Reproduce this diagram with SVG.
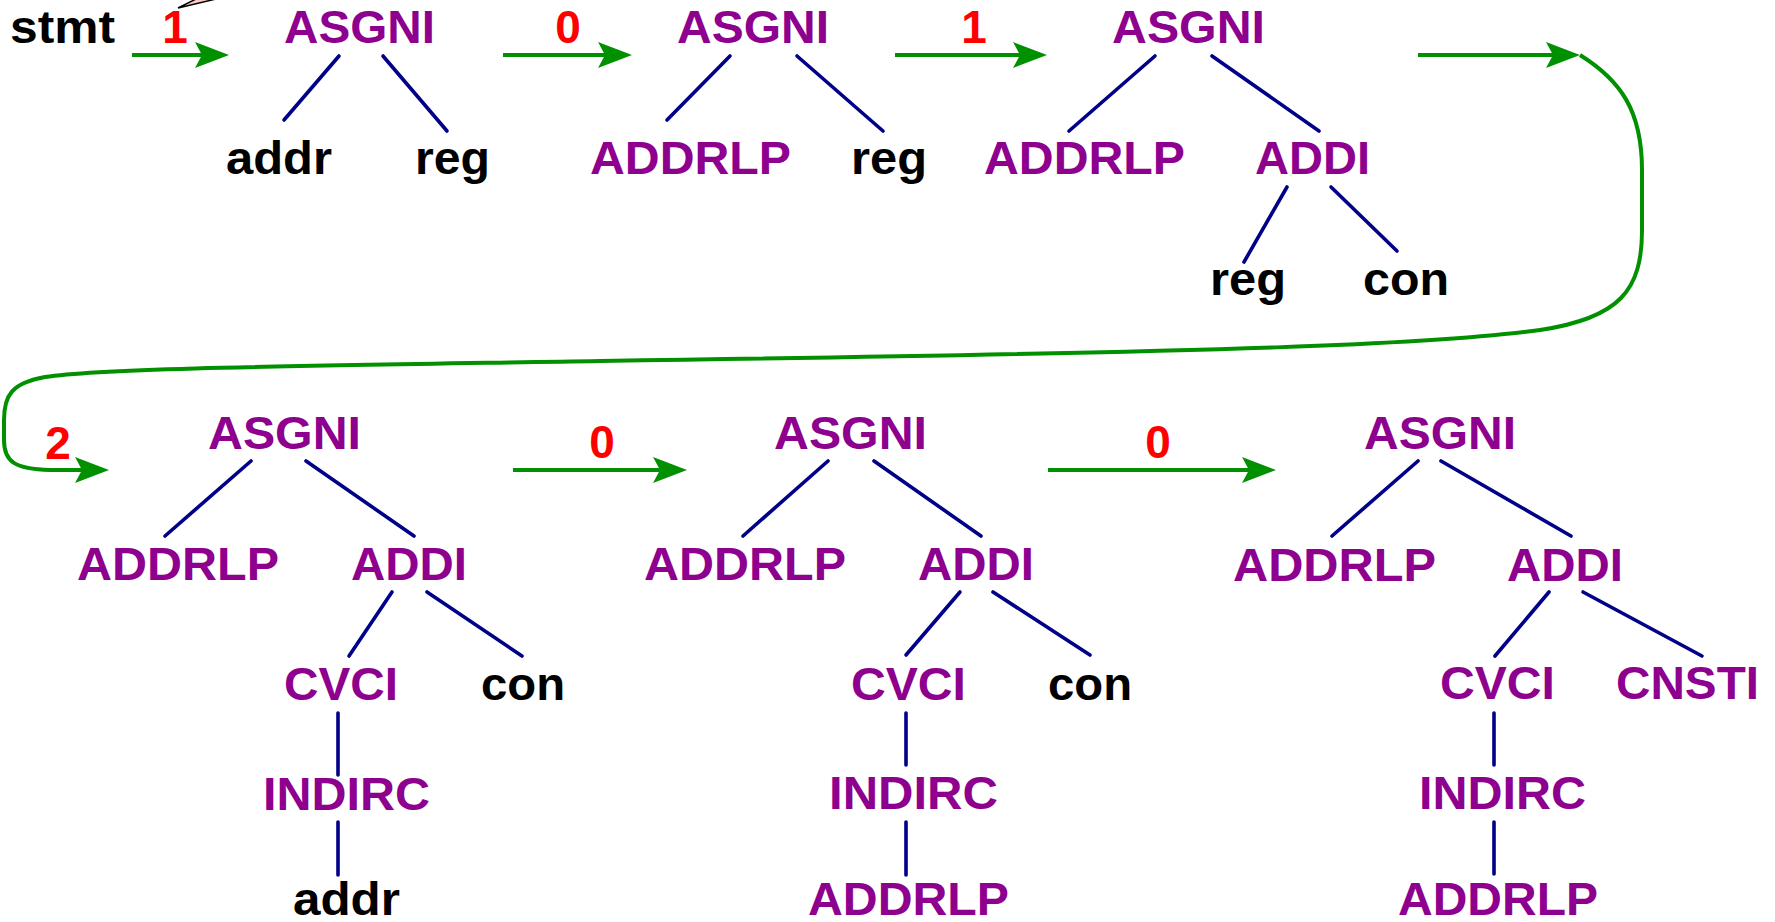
<svg xmlns="http://www.w3.org/2000/svg" width="1775" height="922" viewBox="0 0 1775 922">
  <style>
    text { font-family: "Liberation Sans", Arial, Helvetica, sans-serif; font-weight: bold; font-size: 46px; }
    .op { fill: #8e008e; }
    .nt { fill: #000000; }
    .rule { fill: #ff0000; text-anchor: middle; }
    .edge { stroke: #000088; stroke-width: 3.6; stroke-linecap: round; fill: none; }
    .flow { stroke: #009000; stroke-width: 4; fill: none; marker-end: url(#ah); }
  </style>
  <defs>
    <marker id="ah" markerUnits="userSpaceOnUse" viewBox="0 -14 34 28" refX="8" refY="0" markerWidth="34" markerHeight="28" orient="auto">
      <path d="M0,-13 L34,0 L0,13 L7,0 Z" fill="#009000"/>
    </marker>
  </defs>
  <rect width="1775" height="922" fill="#ffffff"/>

  <!-- callout tail at the top edge -->
  <path d="M196,-1 L178,8 L216,-1" fill="#ffc8c8" stroke="#000000" stroke-width="1.5"/>

  <!-- start label -->
  <g id="start">
    <text class="nt" x="10" y="43" textLength="105" lengthAdjust="spacingAndGlyphs">stmt</text>
  </g>

  <!-- rule numbers and reduction steps -->
  <g id="connectors">
    <line class="flow" x1="132" y1="55" x2="203" y2="55"/>
    <line class="flow" x1="503" y1="55" x2="606" y2="55"/>
    <line class="flow" x1="895" y1="55" x2="1021" y2="55"/>
    <line class="flow" x1="1418" y1="55" x2="1554" y2="55"/>
    <path class="flow" d="M1580,55 C1620,80 1642,110 1642,170 L1642,230 C1642,290 1620,318 1540,330 C1440,344 1250,352 600,361 C300,366 100,368 45,377 C12,383 4,395 4,420 L4,440 C4,462 15,469 50,470 L83,470"/>
    <line class="flow" x1="513" y1="470" x2="661" y2="470"/>
    <line class="flow" x1="1048" y1="470" x2="1250" y2="470"/>
    <text class="rule" x="175" y="43">1</text>
    <text class="rule" x="568" y="43">0</text>
    <text class="rule" x="974" y="43">1</text>
    <text class="rule" x="58" y="459">2</text>
    <text class="rule" x="602" y="458">0</text>
    <text class="rule" x="1158" y="458">0</text>
  </g>

  <!-- tree 1 -->
  <g id="tree1">
    <line class="edge" x1="339" y1="56" x2="284" y2="120"/>
    <line class="edge" x1="383" y1="56" x2="447" y2="131"/>
    <text class="op" x="284" y="43" textLength="151" lengthAdjust="spacingAndGlyphs">ASGNI</text>
    <text class="nt" x="226" y="174" textLength="106" lengthAdjust="spacingAndGlyphs">addr</text>
    <text class="nt" x="415" y="174" textLength="75" lengthAdjust="spacingAndGlyphs">reg</text>
  </g>

  <!-- tree 2 -->
  <g id="tree2">
    <line class="edge" x1="730" y1="56" x2="667" y2="120"/>
    <line class="edge" x1="797" y1="56" x2="883" y2="131"/>
    <text class="op" x="677" y="43" textLength="152" lengthAdjust="spacingAndGlyphs">ASGNI</text>
    <text class="op" x="590" y="174" textLength="201" lengthAdjust="spacingAndGlyphs">ADDRLP</text>
    <text class="nt" x="851" y="174" textLength="76" lengthAdjust="spacingAndGlyphs">reg</text>
  </g>

  <!-- tree 3 -->
  <g id="tree3">
    <line class="edge" x1="1155" y1="56" x2="1069" y2="131"/>
    <line class="edge" x1="1212" y1="56" x2="1319" y2="131"/>
    <line class="edge" x1="1287" y1="187" x2="1244" y2="262"/>
    <line class="edge" x1="1331" y1="187" x2="1397" y2="251"/>
    <text class="op" x="1112" y="43" textLength="153" lengthAdjust="spacingAndGlyphs">ASGNI</text>
    <text class="op" x="984" y="174" textLength="201" lengthAdjust="spacingAndGlyphs">ADDRLP</text>
    <text class="op" x="1255" y="174" textLength="115" lengthAdjust="spacingAndGlyphs">ADDI</text>
    <text class="nt" x="1210" y="295" textLength="76" lengthAdjust="spacingAndGlyphs">reg</text>
    <text class="nt" x="1363" y="295" textLength="86" lengthAdjust="spacingAndGlyphs">con</text>
  </g>

  <!-- tree 4 -->
  <g id="tree4">
    <line class="edge" x1="251" y1="461" x2="165" y2="536"/>
    <line class="edge" x1="306" y1="461" x2="414" y2="536"/>
    <line class="edge" x1="392" y1="592" x2="349" y2="656"/>
    <line class="edge" x1="427" y1="592" x2="522" y2="656"/>
    <line class="edge" x1="338" y1="713" x2="338" y2="775"/>
    <line class="edge" x1="338" y1="822" x2="338" y2="875"/>
    <text class="op" x="208" y="449" textLength="153" lengthAdjust="spacingAndGlyphs">ASGNI</text>
    <text class="op" x="77" y="580" textLength="202" lengthAdjust="spacingAndGlyphs">ADDRLP</text>
    <text class="op" x="351" y="580" textLength="116" lengthAdjust="spacingAndGlyphs">ADDI</text>
    <text class="op" x="284" y="700" textLength="114" lengthAdjust="spacingAndGlyphs">CVCI</text>
    <text class="nt" x="481" y="700" textLength="84" lengthAdjust="spacingAndGlyphs">con</text>
    <text class="op" x="263" y="810" textLength="167" lengthAdjust="spacingAndGlyphs">INDIRC</text>
    <text class="nt" x="293" y="915" textLength="107" lengthAdjust="spacingAndGlyphs">addr</text>
  </g>

  <!-- tree 5 -->
  <g id="tree5">
    <line class="edge" x1="828" y1="461" x2="743" y2="536"/>
    <line class="edge" x1="874" y1="461" x2="981" y2="536"/>
    <line class="edge" x1="960" y1="592" x2="906" y2="655"/>
    <line class="edge" x1="993" y1="592" x2="1090" y2="655"/>
    <line class="edge" x1="906" y1="713" x2="906" y2="765"/>
    <line class="edge" x1="906" y1="822" x2="906" y2="875"/>
    <text class="op" x="774" y="449" textLength="153" lengthAdjust="spacingAndGlyphs">ASGNI</text>
    <text class="op" x="644" y="580" textLength="202" lengthAdjust="spacingAndGlyphs">ADDRLP</text>
    <text class="op" x="918" y="580" textLength="116" lengthAdjust="spacingAndGlyphs">ADDI</text>
    <text class="op" x="851" y="700" textLength="115" lengthAdjust="spacingAndGlyphs">CVCI</text>
    <text class="nt" x="1048" y="700" textLength="84" lengthAdjust="spacingAndGlyphs">con</text>
    <text class="op" x="829" y="809" textLength="169" lengthAdjust="spacingAndGlyphs">INDIRC</text>
    <text class="op" x="808" y="915" textLength="201" lengthAdjust="spacingAndGlyphs">ADDRLP</text>
  </g>

  <!-- tree 6 -->
  <g id="tree6">
    <line class="edge" x1="1418" y1="461" x2="1332" y2="536"/>
    <line class="edge" x1="1441" y1="461" x2="1571" y2="536"/>
    <line class="edge" x1="1549" y1="592" x2="1495" y2="656"/>
    <line class="edge" x1="1583" y1="592" x2="1702" y2="656"/>
    <line class="edge" x1="1494" y1="713" x2="1494" y2="765"/>
    <line class="edge" x1="1494" y1="822" x2="1494" y2="874"/>
    <text class="op" x="1364" y="449" textLength="152" lengthAdjust="spacingAndGlyphs">ASGNI</text>
    <text class="op" x="1233" y="581" textLength="203" lengthAdjust="spacingAndGlyphs">ADDRLP</text>
    <text class="op" x="1507" y="581" textLength="116" lengthAdjust="spacingAndGlyphs">ADDI</text>
    <text class="op" x="1440" y="699" textLength="115" lengthAdjust="spacingAndGlyphs">CVCI</text>
    <text class="op" x="1616" y="699" textLength="143" lengthAdjust="spacingAndGlyphs">CNSTI</text>
    <text class="op" x="1419" y="809" textLength="167" lengthAdjust="spacingAndGlyphs">INDIRC</text>
    <text class="op" x="1398" y="915" textLength="200" lengthAdjust="spacingAndGlyphs">ADDRLP</text>
  </g>
</svg>
